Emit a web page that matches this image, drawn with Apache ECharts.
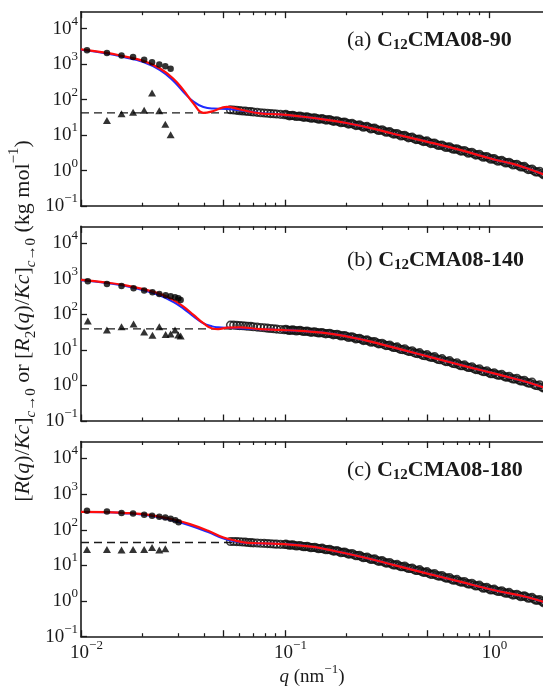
<!DOCTYPE html>
<html>
<head>
<meta charset="utf-8">
<script src="https://cdn.jsdelivr.net/npm/echarts@6/dist/echarts.min.js"></script>
<style>
html, body { margin: 0; padding: 0; background: #fff; }
#chart { width: 543px; height: 687px; }
</style>
</head>
<body>
<div id="chart"></div>
<script>
// ---- scattering data: R(q)/Kc extrapolated to c -> 0 ----

// q grid of the dense (open circle) data set, nm^-1
const qOpen = [0.054,0.056,0.058,0.060,0.062,0.064,0.066,0.068,0.070,
  0.073,0.076,0.079,0.082,0.085,0.088,0.091,
  0.095,0.099,0.103,0.107,0.111,
  0.116,0.121,0.126,0.131,
  0.137,0.143,0.149,0.155,
  0.162,0.169,0.176,0.184,0.192,0.200,
  0.209,0.218,0.227,0.237,0.247,
  0.258,0.269,0.281,0.293,
  0.306,0.319,0.333,0.347,0.362,0.378,0.394,
  0.411,0.429,0.447,0.466,0.486,
  0.507,0.529,0.552,0.576,
  0.601,0.627,0.654,0.682,
  0.711,0.742,0.774,0.807,0.842,0.878,0.916,0.955,0.996,
  1.04,1.08,1.13,1.18,1.23,1.28,
  1.34,1.40,1.46,1.52,1.59,1.66,1.73,1.81,1.89,1.97];
// second, interleaved run of the same measurement (q > 0.1 nm^-1)
const qOpen2 = [0.101,0.105,0.109,0.1135,0.1185,0.1235,0.1285,0.134,0.140,0.146,
  0.152,0.1585,0.1655,0.1725,0.180,0.188,0.196,0.2045,0.2135,0.2225,
  0.232,0.242,0.2525,0.2635,0.275,0.287,0.2995,0.3125,0.326,0.340,
  0.3545,0.370,0.386,0.4025,0.420,0.438,0.4565,0.476,0.4965,0.518,
  0.5405,0.564,0.5885,0.614,0.6405,0.668,0.6965,0.7265,0.758,0.7905,
  0.8245,0.86,0.897,0.9355,0.9755,1.018,1.06,1.105,1.155,1.205,
  1.255,1.31,1.37,1.43,1.49,1.555,1.625,1.695,1.77,1.85,
  1.93];

// (a) C12CMA08-90
const openA = [52,51,50,49,48,47.5,46.5,46,45,
  44,43,42,41.5,40.5,40,39.5,
  38.5,37.5,36.5,35.5,35,
  34,33,32.5,31.5,
  30.5,29.5,28.5,28,
  27,26,25,24,23,22,
  21,20,19,18,17.2,
  16.3,15.5,14.6,13.8,
  13,12.3,11.5,10.9,10.3,9.7,9.1,
  8.6,8.1,7.6,7.1,6.7,
  6.3,5.9,5.5,5.2,
  4.9,4.6,4.3,4.05,
  3.85,3.6,3.4,3.2,3.0,2.8,2.6,2.45,2.3,
  2.15,2.0,1.9,1.78,1.68,1.58,
  1.48,1.38,1.28,1.18,1.08,1.0,0.92,0.84,0.77,0.7];
const openA2 = [38.5,35,36,33.5,34.5,31.8,32.8,30,31,28,
  29.3,26.5,27.5,24.5,25.5,22.5,23.5,20.5,21.5,18.6,
  19.5,16.8,17.7,15,15.8,13.5,14.2,12.1,12.6,10.7,
  11.2,9.5,9.9,8.4,8.8,7.5,7.8,6.6,6.9,5.8,
  6.0,5.1,5.3,4.5,4.7,4.0,4.15,3.55,3.7,3.1,
  3.3,2.75,2.9,2.4,2.5,2.1,2.2,1.85,1.95,1.65,
  1.72,1.45,1.52,1.27,1.32,1.07,1.12,0.92,0.96,0.77,
  0.79];
const circA_q = [0.0107,0.0134,0.0158,0.0180,0.0204,0.0223,0.0242,0.0259,0.0275];
const circA_v = [2450,2050,1750,1580,1340,1130,980,875,745];
const triA_q = [0.0134,0.0158,0.0180,0.0204,0.0223,0.0242,0.0259,0.0275];
const triA_v = [26,40,44,50,155,49,20.4,10.2];
const dashA = 42.5;
const redA = [[0.01,2600],[0.01337,2080],[0.0161,1680],[0.0202,1240],[0.0244,757],[0.0283,395],
  [0.0318,185],[0.0356,78],[0.0398,42.5],[0.0446,48],[0.0518,63],[0.0602,53],[0.0754,41],
  [0.0945,38.5],[0.12,33.5],[0.16,27],[0.2,22],[0.27,15.3],[0.339,11],[0.494,6.6],[0.72,3.85],
  [1.05,2.1],[1.31,1.55],[1.53,1.17],[1.84,0.8],[2.0,0.68]];
const blueA = [[0.01,2550],[0.01337,2000],[0.0161,1600],[0.0202,1150],[0.0244,680],[0.0283,340],
  [0.0318,165],[0.0356,88],[0.0398,62],[0.0446,56],[0.0518,55],[0.0602,50],[0.0754,42],
  [0.0945,38.5],[0.12,33.5],[0.16,27],[0.2,22],[0.27,15.3],[0.339,11],[0.494,6.6],[0.72,3.85],
  [1.05,2.1],[1.31,1.55],[1.53,1.17],[1.84,0.8],[2.0,0.68]];

// (b) C12CMA08-140
const openB = [50,50,49,48.5,48,47,46.5,46,45,
  44,43,42,41,40,39.5,38.5,
  37.5,37,36.5,36,35.5,
  35,34,33.5,32.5,
  32,31,30.5,29.5,
  29,28,27.2,26.2,25.2,24.2,
  23.2,22,21,19.8,18.8,
  17.8,16.9,15.9,15,
  14.1,13.3,12.4,11.7,10.9,10.2,9.6,
  9.0,8.4,7.9,7.4,6.9,
  6.5,6.1,5.7,5.3,
  5.0,4.7,4.4,4.1,
  3.85,3.6,3.4,3.2,3.0,2.8,2.6,2.45,2.3,
  2.15,2.05,1.95,1.83,1.72,1.62,
  1.52,1.42,1.33,1.25,1.16,1.07,0.99,0.91,0.84,0.77];
const openB2 = [38,35.3,36.8,34.2,35.5,33,34,31.2,32.5,30,
  31,28.3,29.5,26.6,27.6,24.6,25.6,22.5,23.5,20.4,
  21.2,18.3,19.2,16.5,17.3,14.8,15.4,13.2,13.7,11.7,
  12.2,10.3,10.8,9.1,9.5,8.0,8.4,7.0,7.4,6.2,
  6.5,5.4,5.7,4.7,5.0,4.15,4.35,3.6,3.8,3.2,
  3.35,2.8,2.95,2.45,2.6,2.15,2.28,1.95,2.05,1.72,
  1.82,1.52,1.6,1.33,1.4,1.17,1.24,1.0,1.05,0.85,
  0.88];
const circB_q = [0.0108,0.0134,0.0158,0.0181,0.0204,0.0224,0.0242,0.0260,0.0275,0.0289,0.0300,0.0308];
const circB_v = [861,723,635,547,468,422,378,347,325,305,286,256];
const triB_q = [0.0108,0.0134,0.0158,0.0181,0.0204,0.0224,0.0242,0.0260,0.0275,0.0289,0.0300,0.0308];
const triB_v = [65.6,36.6,45.3,54,32.1,25.9,45.3,27,28.2,36.6,26.5,24.8];
const dashB = 39;
const redB = [[0.01,937],[0.01337,787],[0.0161,678],[0.0202,513],[0.0244,378],[0.0283,256],
  [0.0318,166],[0.0356,97],[0.0398,56.5],[0.044,40],[0.047,38.5],[0.0525,42.5],[0.060,43],
  [0.0754,38.5],[0.0945,36.5],[0.1186,34.3],[0.1725,28],[0.251,18.3],[0.366,10.5],[0.533,6.0],
  [0.778,3.4],[1.13,1.98],[1.53,1.25],[1.84,0.89],[2.0,0.76]];
const blueB = [[0.01,920],[0.01337,770],[0.0161,650],[0.0202,480],[0.0244,340],[0.0283,225],
  [0.0318,145],[0.0356,88],[0.0398,56],[0.044,46],[0.047,43.5],[0.0525,42],[0.060,41],
  [0.0754,38.5],[0.0945,36.5],[0.1186,34.3],[0.1725,28],[0.251,18.3],[0.366,10.5],[0.533,6.0],
  [0.778,3.4],[1.13,1.98],[1.53,1.25],[1.84,0.89],[2.0,0.76]];

// (c) C12CMA08-180
const openC = [47,47,46.5,46,45.5,45,44,43.5,43,
  42.5,42,41.5,41,40.5,40,39.5,
  39,38.5,38,37.2,36.5,
  35.5,34.5,33.7,32.8,
  31.8,30.8,29.8,28.8,
  27.8,26.6,25.5,24.4,23.2,22.2,
  21,19.9,18.8,17.6,16.7,
  15.8,14.9,14,13.2,
  12.4,11.7,11,10.3,9.8,9.2,8.7,
  8.2,7.7,7.2,6.8,6.4,
  6.0,5.6,5.3,5.0,
  4.7,4.4,4.1,3.9,
  3.6,3.4,3.2,3.0,2.85,2.7,2.5,2.35,2.2,
  2.08,1.98,1.87,1.77,1.67,1.58,
  1.5,1.43,1.37,1.31,1.22,1.14,1.06,0.98,0.91,0.85];
const openC2 = [39.5,36.8,38,35.2,36.2,33.4,34.4,31.5,32.5,29.5,
  30.5,27.5,28.4,25.2,26,22.8,23.8,20.8,21.6,18.6,
  19.3,16.5,17.2,14.7,15.3,13,13.6,11.6,12.1,10.3,
  10.7,9.2,9.6,8.2,8.5,7.2,7.6,6.4,6.7,5.6,
  5.9,5.0,5.2,4.4,4.6,3.85,4.05,3.4,3.55,3.0,
  3.15,2.65,2.8,2.3,2.45,2.05,2.16,1.85,1.95,1.65,
  1.75,1.47,1.56,1.32,1.4,1.2,1.27,1.05,1.1,0.9,
  0.94];
const circC_q = [0.0107,0.0134,0.0158,0.0180,0.0204,0.0223,0.0242,0.0259,0.0275,0.0290,0.0301];
const circC_v = [340,327,298,287,262,246,231,222,203,186,164];
const triC_q = [0.0107,0.0134,0.0158,0.0180,0.0204,0.0223,0.0242,0.0259];
const triC_v = [28.2,28.2,26.9,28.2,28.2,32,26.9,29.5];
const dashC = 44;
const redC = [[0.01,318],[0.01337,313],[0.0161,299],[0.0202,275],[0.0244,231],[0.0283,195],
  [0.0342,144],[0.042,93.6],[0.05,61],[0.0577,49],[0.066,43],[0.079,41.5],[0.099,39.8],
  [0.138,33],[0.1597,28.2],[0.2328,17.8],[0.339,10.4],[0.494,6.0],[0.72,3.5],[1.05,2.04],
  [1.53,1.3],[1.84,0.96],[2.0,0.84]];
const blueC = [[0.01,315],[0.01337,308],[0.0161,293],[0.0202,266],[0.0244,220],[0.0283,183],
  [0.0342,132],[0.042,86],[0.05,57],[0.0577,47],[0.066,42.5],[0.079,41],[0.099,39.8],
  [0.138,33],[0.1597,28.2],[0.2328,17.8],[0.339,10.4],[0.494,6.0],[0.72,3.5],[1.05,2.04],
  [1.53,1.3],[1.84,0.96],[2.0,0.84]];

// panel captions
const panelLetters = ['(a) ', '(b) ', '(c) '];
const sampleNames = ['CMA08-90', 'CMA08-140', 'CMA08-180'];

// axis ticks
const xMajor = [0.01, 0.1, 1, 0.05, 0.5];
const xMinor = [0.02,0.03,0.04,0.06,0.07,0.08,0.09,0.2,0.3,0.4,0.6,0.7,0.8,0.9,2];
const xLabels = [0.01, 0.1, 1];
const yTicks = [0.1, 1, 10, 100, 1000, 10000];

// ---- layout ----
const SERIF = 'Liberation Serif, Times New Roman, serif';
const INK = '#1a1a1a';
const grids = [
  { left: 81, right: -7.4, top: 11.7, height: 194.5 },
  { left: 81, right: -7.4, top: 226.4, height: 194.6 },
  { left: 81, right: -7.4, top: 441.5, height: 195.2 }
];
const titleY = [40, 260, 470];

const panels = [
  { open: openA, open2: openA2, cq: circA_q, cv: circA_v, tq: triA_q, tv: triA_v, dash: dashA, red: redA, blue: blueA },
  { open: openB, open2: openB2, cq: circB_q, cv: circB_v, tq: triB_q, tv: triB_v, dash: dashB, red: redB, blue: blueB },
  { open: openC, open2: openC2, cq: circC_q, cv: circC_v, tq: triC_q, tv: triC_v, dash: dashC, red: redC, blue: blueC }
];

function powLabel(v) {
  const e = Math.round(Math.log10(v));
  return '{b|10}{p|' + (e < 0 ? '\u2212' + (-e) : e) + '}';
}
const powRich = {
  b: { fontFamily: SERIF, fontSize: 19, lineHeight: 28, color: INK },
  p: { fontFamily: SERIF, fontSize: 13, lineHeight: 13, verticalAlign: 'top', color: INK }
};

const frameLine = { show: true, onZero: false, lineStyle: { color: INK, width: 1.6 } };

function xAxesFor(i) {
  const base = { type: 'log', logBase: 10, gridIndex: i, min: 0.01, max: 2, splitLine: { show: false } };
  const axes = [];
  ['bottom', 'top'].forEach(function (pos) {
    axes.push(Object.assign({}, base, {
      position: pos,
      axisLine: frameLine,
      axisTick: { inside: true, length: 6.5, customValues: xMajor, lineStyle: { color: INK, width: 1.3 } },
      axisLabel: (pos === 'bottom' && i === 2)
        ? { show: true, customValues: xLabels, formatter: powLabel, rich: powRich, margin: 2, padding: [0, 0, 0, 11] }
        : { show: false }
    }));
    axes.push(Object.assign({}, base, {
      position: pos,
      axisLine: { show: false },
      axisTick: { inside: true, length: 3.5, customValues: xMinor, lineStyle: { color: INK, width: 1.2 } },
      axisLabel: { show: false }
    }));
  });
  return axes;
}

function yAxisFor(i) {
  return {
    type: 'log', logBase: 10, gridIndex: i, min: 0.1, max: 30000, position: 'left',
    axisLine: frameLine,
    axisTick: { inside: true, length: 6, customValues: yTicks, lineStyle: { color: INK, width: 1.3 } },
    axisLabel: { customValues: yTicks, formatter: powLabel, rich: powRich, margin: 3 },
    splitLine: { show: false }
  };
}

function pairs(qs, vs) {
  return qs.map(function (q, k) { return [q, vs[k]]; });
}

function seriesFor(i, p) {
  const ax = { xAxisIndex: 4 * i, yAxisIndex: i };
  const openStyle = { color: 'rgba(0,0,0,0)', borderColor: '#111', borderWidth: 1.6 };
  return [
    Object.assign({ type: 'line', data: [[0.01, p.dash], [0.07, p.dash]], symbol: 'none',
      lineStyle: { color: INK, width: 1.3, type: [8, 5] }, z: 2 }, ax),
    Object.assign({ type: 'scatter', data: pairs(qOpen, p.open),
      symbol: 'circle', symbolSize: 7.5, itemStyle: openStyle, z: 3 }, ax),
    Object.assign({ type: 'scatter', data: pairs(qOpen2, p.open2),
      symbol: 'circle', symbolSize: 7.5, itemStyle: openStyle, z: 3 }, ax),
    Object.assign({ type: 'line', data: p.blue, smooth: 0.45, symbol: 'none',
      lineStyle: { color: '#1f2bff', width: 2 }, z: 4 }, ax),
    Object.assign({ type: 'line', data: p.red, smooth: 0.45, symbol: 'none',
      lineStyle: { color: '#ff0d0d', width: 2.2 }, z: 5 }, ax),
    Object.assign({ type: 'scatter', data: pairs(p.tq, p.tv),
      symbol: 'triangle', symbolSize: [8, 7], itemStyle: { color: '#000' }, z: 6 }, ax),
    Object.assign({ type: 'scatter', data: pairs(p.cq, p.cv),
      symbol: 'circle', symbolSize: 6.5, itemStyle: { color: '#000' }, z: 6 }, ax)
  ];
}

const xAxes = [], yAxes = [], series = [];
panels.forEach(function (p, i) {
  Array.prototype.push.apply(xAxes, xAxesFor(i));
  yAxes.push(yAxisFor(i));
  Array.prototype.push.apply(series, seriesFor(i, p));
});

const titleRich = {
  n: { fontFamily: SERIF, fontSize: 22, lineHeight: 26, fill: INK },
  bd: { fontFamily: SERIF, fontSize: 22, fontWeight: 'bold', lineHeight: 26, fill: INK },
  sb: { fontFamily: SERIF, fontSize: 15, fontWeight: 'bold', lineHeight: 15, verticalAlign: 'bottom', fill: INK }
};
const graphics = panelLetters.map(function (letter, i) {
  return {
    type: 'text', x: 347, y: titleY[i], z: 20,
    style: { text: '{n|' + letter + '}{bd|C}{sb|12}{bd|' + sampleNames[i] + '}', rich: titleRich,
      align: 'left', verticalAlign: 'middle' }
  };
});

const xTitleRich = {
  n: { fontFamily: SERIF, fontSize: 19, lineHeight: 28, fill: INK },
  i: { fontFamily: SERIF, fontSize: 19, fontStyle: 'italic', lineHeight: 28, fill: INK },
  p: { fontFamily: SERIF, fontSize: 13, lineHeight: 13, verticalAlign: 'top', fill: INK }
};
const yTitleRich = {
  n: { fontFamily: SERIF, fontSize: 22, lineHeight: 32, fill: INK },
  i: { fontFamily: SERIF, fontSize: 22, fontStyle: 'italic', lineHeight: 32, fill: INK },
  s: { fontFamily: SERIF, fontSize: 15, lineHeight: 15, verticalAlign: 'bottom', fill: INK },
  si: { fontFamily: SERIF, fontSize: 15, fontStyle: 'italic', lineHeight: 15, verticalAlign: 'bottom', fill: INK },
  p: { fontFamily: SERIF, fontSize: 15, lineHeight: 15, verticalAlign: 'top', fill: INK }
};
graphics.push({
  type: 'text', x: 312, y: 677, z: 20,
  style: { text: '{i|q}{n| (nm}{p|\u22121}{n|)}', rich: xTitleRich, align: 'center', verticalAlign: 'middle' }
});
graphics.push({
  type: 'text', x: 23, y: 321, rotation: Math.PI / 2, z: 20,
  style: {
    text: '{n|[}{i|R}{n|(}{i|q}{n|)/}{i|Kc}{n|]}{si|c}{s|\u21920}{n| or [}{i|R}{s|2}{n|(}{i|q}{n|)/}{i|Kc}{n|]}{si|c}{s|\u21920}{n| (kg mol}{p|\u22121}{n|)}',
    rich: yTitleRich, align: 'center', verticalAlign: 'middle'
  }
});

const chart = echarts.init(document.getElementById('chart'), null, { renderer: 'canvas' });
chart.setOption({
  animation: false,
  backgroundColor: '#fff',
  grid: grids.map(function (g) { return Object.assign({ outerBoundsMode: 'none', containLabel: false }, g); }),
  xAxis: xAxes,
  yAxis: yAxes,
  series: series,
  graphic: graphics
});
</script>
</body>
</html>
